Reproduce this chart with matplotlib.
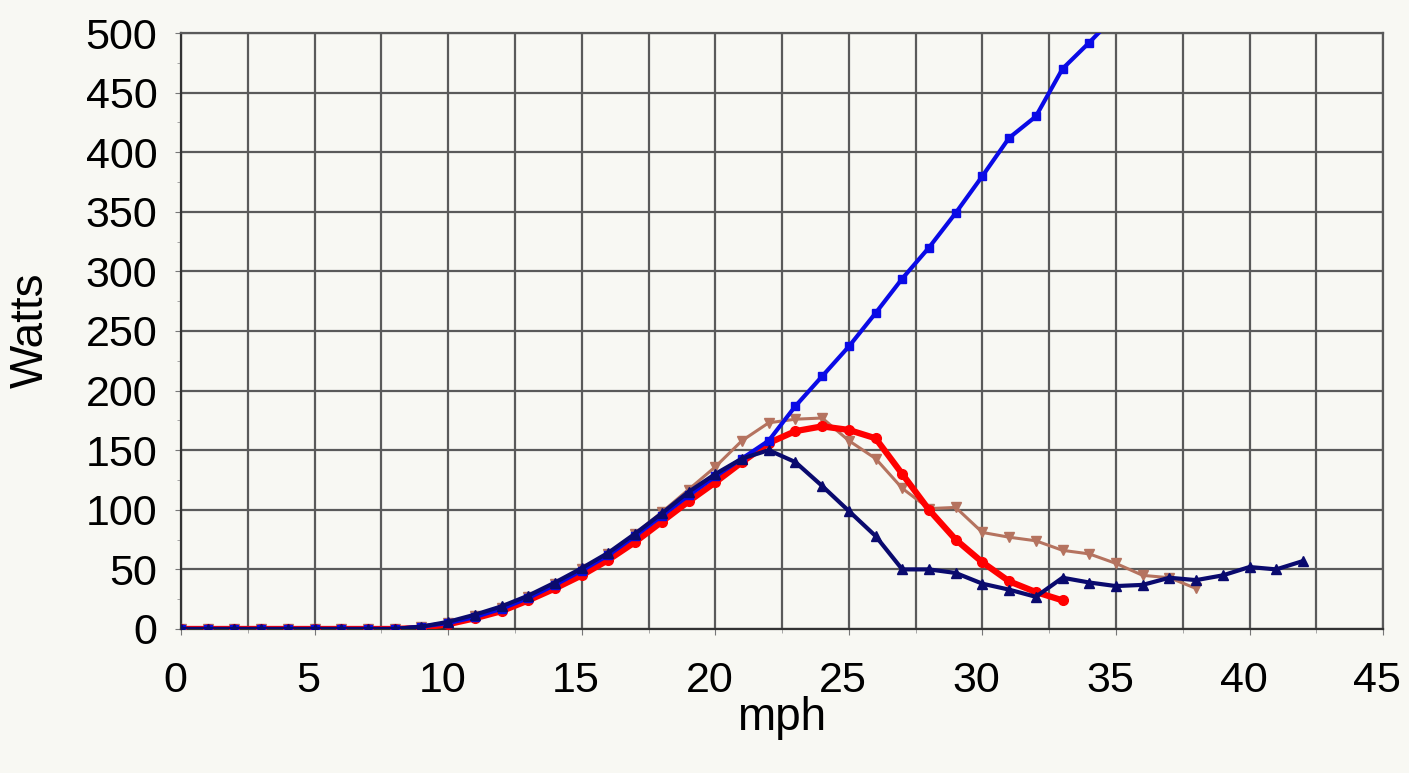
import matplotlib.pyplot as plt
import matplotlib.transforms as mtransforms
from matplotlib.ticker import MultipleLocator

plt.rcParams['font.family'] = ['Liberation Sans', 'DejaVu Sans']

# speed (mph) and power (watts)
mph_blue = list(range(0, 36))
watts_blue = [0, 0, 0, 0, 0, 0, 0, 0, 0, 2, 5, 10, 17, 26, 37, 49, 62, 78, 95,
              112, 128, 143, 158, 187, 212, 237, 265, 294, 320, 349, 380, 412,
              430, 470, 492, 515]

mph_navy = list(range(0, 43))
watts_navy = [0, 0, 0, 0, 0, 0, 0, 0, 0, 2, 6, 12, 19, 28, 39, 51, 64, 80, 97,
              115, 130, 143, 150, 140, 120, 99, 78, 50, 50, 47, 38, 33, 27,
              43, 39, 36, 37, 43, 41, 45, 52, 50, 57]

mph_red = list(range(0, 34))
watts_red = [0, 0, 0, 0, 0, 0, 0, 0, 0, 1, 4, 9, 15, 24, 34, 45, 58, 73, 90,
             107, 123, 140, 156, 166, 170, 167, 160, 130, 100, 75, 56, 40, 31, 24]

mph_tan = list(range(0, 39))
watts_tan = [0, 0, 0, 0, 0, 0, 0, 0, 0, 2, 5, 11, 18, 27, 38, 50, 63, 80, 98,
             117, 136, 158, 173, 176, 177, 158, 143, 118, 101, 102, 81, 77, 74,
             66, 63, 55, 45, 43, 34]

bg = '#f8f8f3'
fig = plt.figure(figsize=(14.09, 7.73), dpi=100, facecolor=bg)
ax = fig.add_axes([0.1285, 0.1863, 0.8531, 0.7710], facecolor=bg)

ax.plot(mph_tan, watts_tan, color='#b5735f', lw=2.2, marker='v', ms=7, zorder=3)
ax.plot(mph_red, watts_red, color='#ff0000', lw=4.5, marker='o', ms=7, zorder=4)
ax.plot(mph_blue, watts_blue, color='#0a0ae6', lw=3, marker='s', ms=6, zorder=5)
ax.plot(mph_navy, watts_navy, color='#0a0a6e', lw=3, marker='^', ms=7, zorder=6)

ax.set_xlim(0, 45)
ax.set_ylim(0, 500)
ax.xaxis.set_major_locator(MultipleLocator(5))
ax.xaxis.set_minor_locator(MultipleLocator(2.5))
ax.yaxis.set_major_locator(MultipleLocator(50))
ax.yaxis.set_minor_locator(MultipleLocator(25))

ax.grid(True, which='major', color='#5a5a5a', lw=1.6)
ax.grid(True, which='minor', axis='x', color='#5a5a5a', lw=1.6)
ax.set_axisbelow(True)

for s in ax.spines.values():
    s.set_color('#5a5a5a')
    s.set_linewidth(1.6)
ax.spines['left'].set_color('#333333')
ax.spines['bottom'].set_color('#333333')

ax.tick_params(which='major', labelsize=31, length=4, color='#777777')
ax.tick_params(axis='y', which='major', pad=13)
ax.tick_params(axis='x', which='major', pad=19)
ax.tick_params(which='minor', length=3, color='#999999')

# x labels sit a little left of their gridlines in the original
shift = mtransforms.ScaledTranslation(-6 / 100, 0, fig.dpi_scale_trans)
for lbl in ax.get_xticklabels():
    lbl.set_transform(lbl.get_transform() + shift)

fig.text(0.555, 1 - 718 / 773, 'mph', fontsize=33, ha='center', va='center')
fig.text(31 / 1409, 1 - 330 / 773, 'Watts', fontsize=33, ha='center',
         va='center', rotation=90)

fig.savefig('out.png', dpi=100, facecolor=bg)
